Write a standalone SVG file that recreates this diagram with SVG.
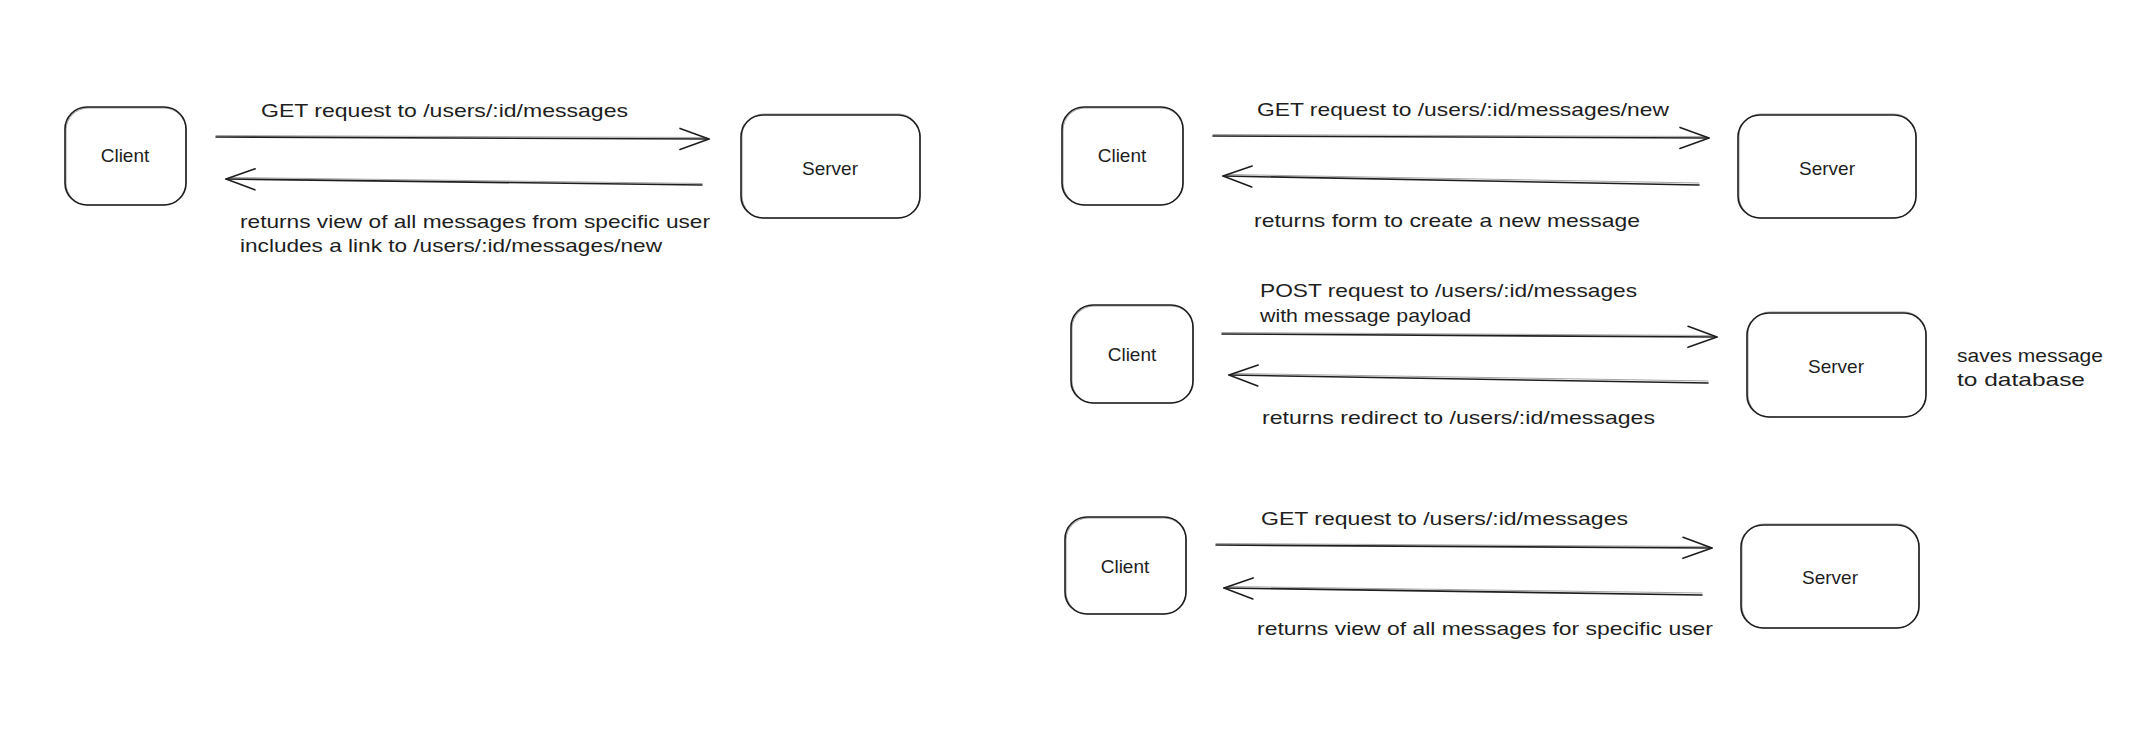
<svg xmlns="http://www.w3.org/2000/svg" width="2154" height="752" viewBox="0 0 2154 752">
<style>
.box{fill:none;stroke:#1e1e1e;stroke-width:1.6}
.box2{fill:none;stroke:#1e1e1e;stroke-width:0.8;opacity:0.55}
.ln{fill:none;stroke:#1e1e1e;stroke-width:1.6;stroke-linecap:round}
.ln2{fill:none;stroke:#1e1e1e;stroke-width:0.8;opacity:0.5;stroke-linecap:round}
.t{font-family:"Liberation Sans",Arial,sans-serif;font-size:19px;fill:#1e1e1e}
.c{text-anchor:middle;dominant-baseline:central}
</style>
<defs>
<marker id="head" markerUnits="userSpaceOnUse" viewBox="-34 -14 38 28" refX="0" refY="0" markerWidth="38" markerHeight="28" orient="auto">
<path d="M -29 -10.5 L 0 0 L -29 10.5" fill="none" stroke="#1e1e1e" stroke-width="1.6" stroke-linecap="round" stroke-linejoin="round"/>
</marker>
</defs>
<rect width="2154" height="752" fill="#ffffff"/>

<g id="d1-client">
<rect class="box" x="65" y="107" width="121" height="98" rx="22"/>
<rect class="box2" x="66" y="108" width="120" height="97" rx="22"/>
<text class="t c" x="125" y="155">Client</text>
</g>
<g id="d1-server">
<rect class="box" x="741" y="115" width="179" height="103" rx="22"/>
<rect class="box2" x="742" y="114" width="178" height="104" rx="22"/>
<text class="t c" x="830" y="168">Server</text>
</g>

<g id="d2-client">
<rect class="box" x="1062" y="107" width="121" height="98" rx="22"/>
<rect class="box2" x="1063" y="108" width="120" height="97" rx="22"/>
<text class="t c" x="1122" y="155">Client</text>
</g>
<g id="d2-server">
<rect class="box" x="1738" y="115" width="178" height="103" rx="22"/>
<rect class="box2" x="1739" y="114" width="177" height="104" rx="22"/>
<text class="t c" x="1827" y="168">Server</text>
</g>

<g id="d3-client">
<rect class="box" x="1071" y="305" width="122" height="98" rx="22"/>
<rect class="box2" x="1072" y="306" width="121" height="97" rx="22"/>
<text class="t c" x="1132" y="354">Client</text>
</g>
<g id="d3-server">
<rect class="box" x="1747" y="313" width="179" height="104" rx="22"/>
<rect class="box2" x="1748" y="312" width="178" height="105" rx="22"/>
<text class="t c" x="1836" y="366">Server</text>
</g>

<g id="d4-client">
<rect class="box" x="1065" y="517" width="121" height="97" rx="22"/>
<rect class="box2" x="1066" y="518" width="120" height="96" rx="22"/>
<text class="t c" x="1125" y="566">Client</text>
</g>
<g id="d4-server">
<rect class="box" x="1741" y="525" width="178" height="103" rx="22"/>
<rect class="box2" x="1742" y="524" width="177" height="104" rx="22"/>
<text class="t c" x="1830" y="577">Server</text>
</g>

<g id="connectors">
<path class="ln" d="M 216 137 L 709 139" marker-end="url(#head)"/>
<path class="ln2" d="M 216 135.5 L 706 137.5"/>
<path class="ln" d="M 702 185 L 226 179" marker-end="url(#head)"/>
<path class="ln2" d="M 702 183.5 L 230 177.5"/>

<path class="ln" d="M 1213 136 L 1709 138" marker-end="url(#head)"/>
<path class="ln2" d="M 1213 134.5 L 1706 136.5"/>
<path class="ln" d="M 1699 185 L 1223 176" marker-end="url(#head)"/>
<path class="ln2" d="M 1699 183 L 1227 174.5"/>

<path class="ln" d="M 1222 334 L 1717 337" marker-end="url(#head)"/>
<path class="ln2" d="M 1222 332.5 L 1714 335.5"/>
<path class="ln" d="M 1708 383 L 1229 375" marker-end="url(#head)"/>
<path class="ln2" d="M 1708 381 L 1233 373.5"/>

<path class="ln" d="M 1216 545 L 1712 548" marker-end="url(#head)"/>
<path class="ln2" d="M 1216 543.5 L 1709 546.5"/>
<path class="ln" d="M 1702 595 L 1224 588" marker-end="url(#head)"/>
<path class="ln2" d="M 1702 593 L 1228 586.5"/>
</g>

<g id="labels">
<text class="t" x="261" y="117" textLength="367" lengthAdjust="spacingAndGlyphs">GET request to /users/:id/messages</text>
<text class="t" x="240" y="228" textLength="470" lengthAdjust="spacingAndGlyphs">returns view of all messages from specific user</text>
<text class="t" x="240" y="252" textLength="422" lengthAdjust="spacingAndGlyphs">includes a link to /users/:id/messages/new</text>

<text class="t" x="1257" y="116" textLength="412" lengthAdjust="spacingAndGlyphs">GET request to /users/:id/messages/new</text>
<text class="t" x="1254" y="227" textLength="386" lengthAdjust="spacingAndGlyphs">returns form to create a new message</text>

<text class="t" x="1260" y="297" textLength="377" lengthAdjust="spacingAndGlyphs">POST request to /users/:id/messages</text>
<text class="t" x="1260" y="322" textLength="211" lengthAdjust="spacingAndGlyphs">with message payload</text>
<text class="t" x="1262" y="424" textLength="393" lengthAdjust="spacingAndGlyphs">returns redirect to /users/:id/messages</text>
<text class="t" x="1957" y="362" textLength="146" lengthAdjust="spacingAndGlyphs">saves message</text>
<text class="t" x="1957" y="386" textLength="128" lengthAdjust="spacingAndGlyphs">to database</text>

<text class="t" x="1261" y="525" textLength="367" lengthAdjust="spacingAndGlyphs">GET request to /users/:id/messages</text>
<text class="t" x="1257" y="635" textLength="456" lengthAdjust="spacingAndGlyphs">returns view of all messages for specific user</text>
</g>
</svg>
